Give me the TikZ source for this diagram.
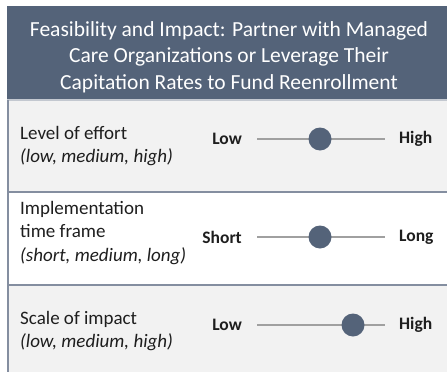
\documentclass[tikz,border=0pt]{standalone}
\usepackage{fontspec}
\setmainfont{Carlito}
\usetikzlibrary{positioning}
\definecolor{slate}{RGB}{84,99,121}
\definecolor{rowgray}{RGB}{242,242,242}
\definecolor{rulecol}{RGB}{132,142,160}
\definecolor{trackcol}{RGB}{160,160,160}
\definecolor{inkcol}{RGB}{30,30,30}
\tikzstyle{every label node}=[anchor=west,align=left,inner sep=0pt,text=inkcol,font=\fontsize{19}{23.5}\selectfont]
\tikzstyle{end node}=[font=\bfseries\fontsize{17.5}{20}\selectfont,inner sep=0pt,text=inkcol]
\tikzstyle{knob}=[circle,fill=slate,minimum size=23pt,inner sep=0pt]
% slider: name, y, knob x, left text, right text
\newcommand{\slider}[5]{
  \coordinate (#1s) at (257,#2);
  \coordinate (#1e) at (385,#2);
  \node[end node,anchor=east] (#1lo) at ([xshift=-15pt]#1s) {#4};
  \node[end node,anchor=west] (#1hi) at ([xshift=14pt]#1e) {#5};
  \draw[trackcol,line width=1.2pt] (#1s) -- (#1e);
  \node[knob] (#1k) at (#3,#2) {};
}

\begin{document}
\begin{tikzpicture}[x=1pt,y=-1pt]
\useasboundingbox (0,0) rectangle (447,372);

% panels
\fill[slate] (7,6) rectangle (447,100);
\fill[rowgray] (7,100) rectangle (447,192);
\fill[white] (7,192) rectangle (447,285);
\fill[rowgray] (7,285) rectangle (447,372);
\draw[slate!35,line width=1.5pt] (7,100) -- (447,100);
\draw[rulecol,line width=2pt] (7,192) -- (447,192);
\draw[rulecol,line width=2pt] (7,285) -- (447,285);
\draw[rulecol,line width=2pt] (7.5,100) -- (7.5,372);

\node[white,align=center,font=\fontsize{21.5}{26.5}\selectfont] (title) at (229,57)
  {Feasibility and Impact: Partner with Managed\\Care Organizations or Leverage Their\\Capitation Rates to Fund Reenrollment};

% row labels
\node[every label node] (effort) at (20,146)
  {Level of effort\\\textit{(low, medium, high)}};
\node[every label node] (time) at (20,233)
  {Implementation\\time frame\\\textit{(short, medium, long)}};
\node[every label node] (impact) at (20,331)
  {Scale of impact\\\textit{(low, medium, high)}};

\slider{a}{139}{320}{Low}{High}
\slider{b}{237}{320}{Short}{Long}
\slider{c}{325}{353}{Low}{High}

\end{tikzpicture}
\end{document}
